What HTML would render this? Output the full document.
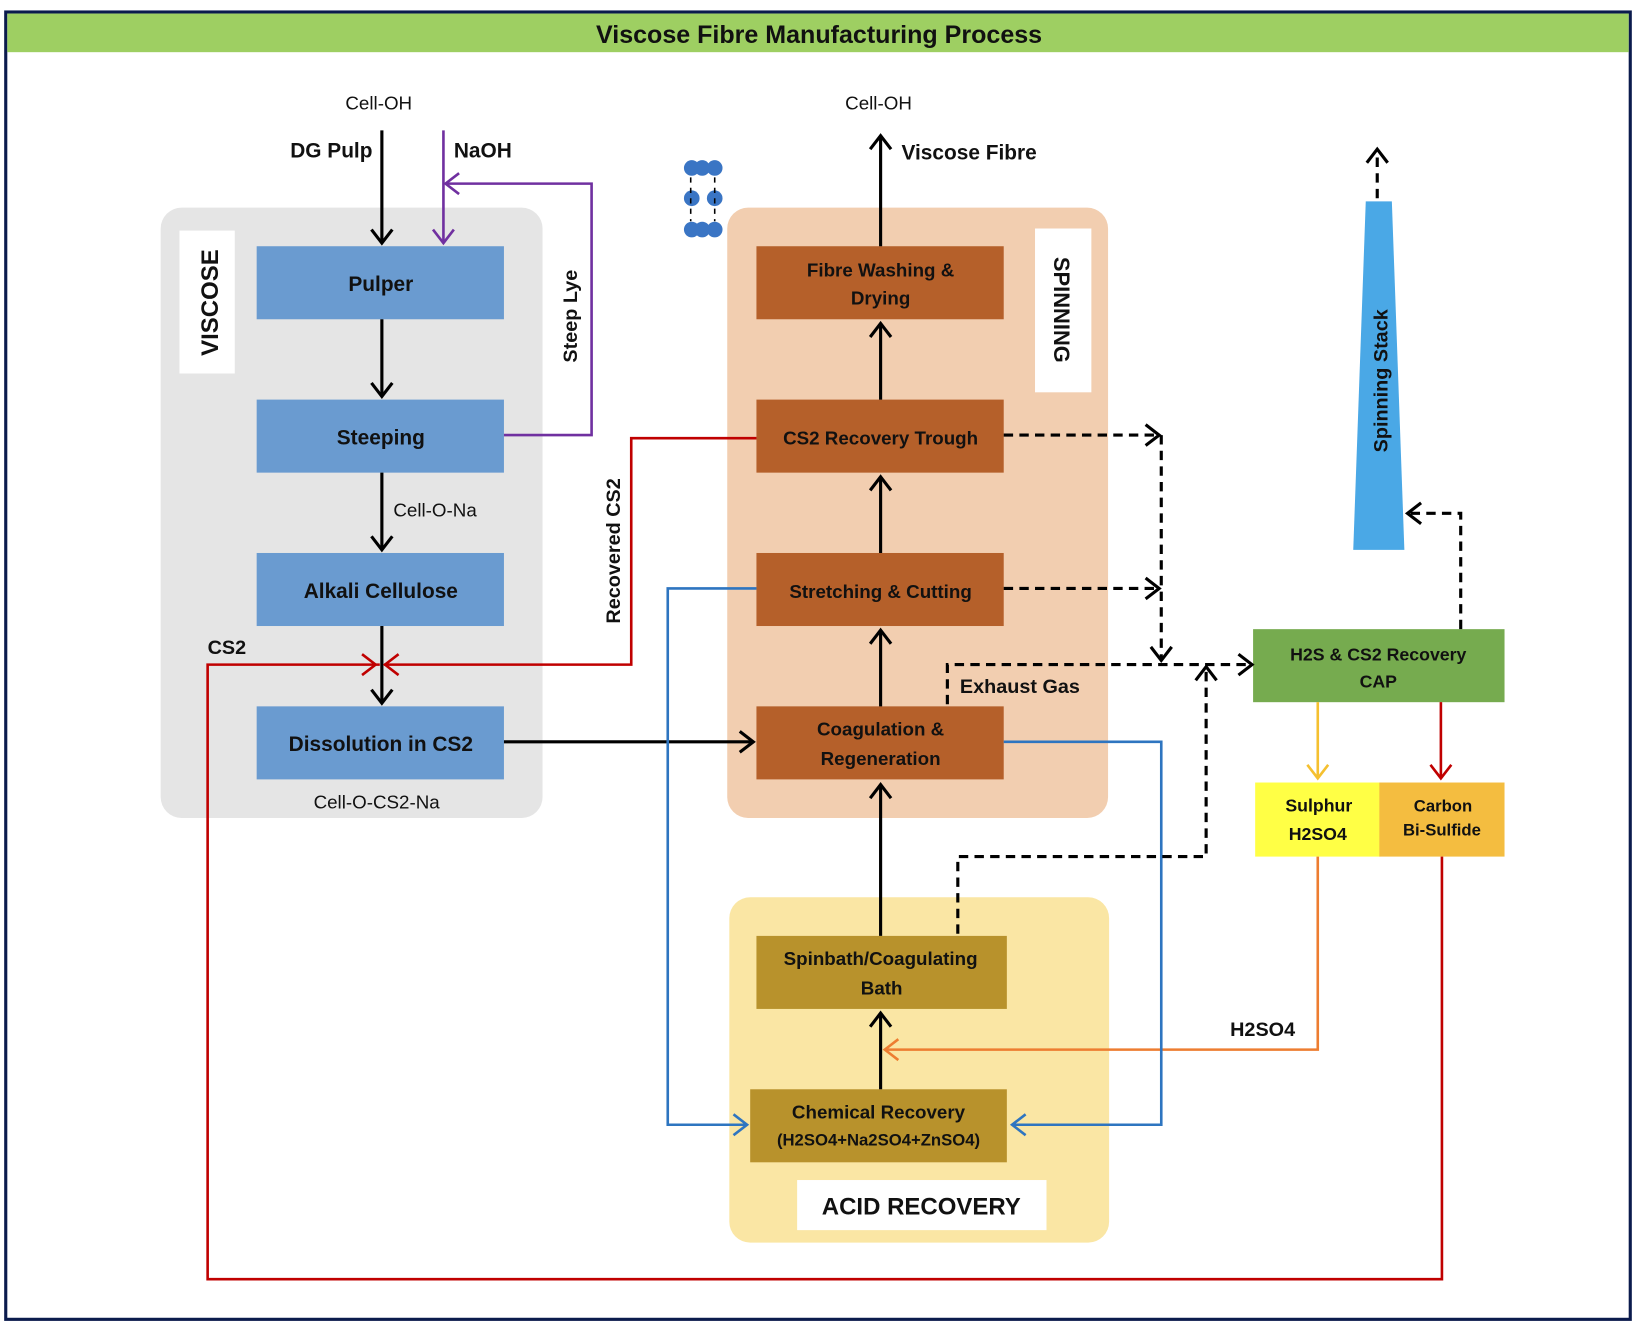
<!DOCTYPE html>
<html><head><meta charset="utf-8"><style>
html,body{margin:0;padding:0;background:#fff;}
svg{display:block;}
text{font-family:"Liberation Sans",sans-serif;}
.b{font-weight:bold;}
</style></head><body>
<svg width="1636" height="1333" viewBox="0 0 1568 1277.6" xmlns="http://www.w3.org/2000/svg">
<rect x="0" y="0" width="1568" height="1278" fill="#fff"/>
<rect x="5.5" y="11.5" width="1557" height="1253" fill="#fff" stroke="#0b1b4d" stroke-width="3"/>
<rect x="7" y="13" width="1554" height="37" fill="#9ecf62"/>
<text x="785" y="41" text-anchor="middle" class="b" font-size="24" fill="#111">Viscose Fibre Manufacturing Process</text>

<!-- groups -->
<rect x="154" y="199" width="366" height="585" rx="20" fill="#e5e5e5"/>
<rect x="697" y="199" width="365" height="585" rx="20" fill="#f2ceb0"/>
<rect x="699" y="860" width="364" height="331" rx="20" fill="#fae6a4"/>
<rect x="172" y="221" width="53" height="137" fill="#fff"/>
<text transform="translate(209,290) rotate(-90)" text-anchor="middle" class="b" font-size="23" fill="#111">VISCOSE</text>
<rect x="992" y="219" width="54" height="157" fill="#fff"/>
<text transform="translate(1010,297) rotate(90)" text-anchor="middle" class="b" font-size="21" fill="#111">SPINNING</text>
<rect x="764" y="1131" width="239" height="48" fill="#fff"/>
<text x="883" y="1164" text-anchor="middle" class="b" font-size="23" fill="#111">ACID RECOVERY</text>

<!-- blue boxes -->
<g fill="#6a9bd0">
<rect x="246" y="236" width="237" height="70"/>
<rect x="246" y="383" width="237" height="70"/>
<rect x="246" y="530" width="237" height="70"/>
<rect x="246" y="677" width="237" height="70"/>
</g>
<g class="b" font-size="20" fill="#111" text-anchor="middle">
<text x="365" y="279">Pulper</text>
<text x="365" y="426">Steeping</text>
<text x="365" y="573">Alkali Cellulose</text>
<text x="365" y="720">Dissolution in CS2</text>
</g>

<!-- brown boxes -->
<g fill="#b5602a">
<rect x="725" y="236" width="237" height="70"/>
<rect x="725" y="383" width="237" height="70"/>
<rect x="725" y="530" width="237" height="70"/>
<rect x="725" y="677" width="237" height="70"/>
</g>
<g class="b" font-size="18" fill="#111" text-anchor="middle">
<text x="844" y="265">Fibre Washing &amp;</text>
<text x="844" y="292">Drying</text>
<text x="844" y="426">CS2 Recovery Trough</text>
<text x="844" y="573">Stretching &amp; Cutting</text>
<text x="844" y="705">Coagulation &amp;</text>
<text x="844" y="733">Regeneration</text>
</g>
<!-- acid boxes -->
<rect x="725" y="897" width="240" height="70" fill="#b8922c"/>
<rect x="719" y="1044" width="246" height="70" fill="#b8922c"/>
<g class="b" font-size="18" fill="#111" text-anchor="middle">
<text x="844" y="925">Spinbath/Coagulating</text>
<text x="845" y="953">Bath</text>
<text x="842" y="1072">Chemical Recovery</text>
<text x="842" y="1098" font-size="16">(H2SO4+Na2SO4+ZnSO4)</text>
</g>

<!-- right side -->
<polygon points="1309,193 1334,193 1346,527 1297,527" fill="#4aa8e6"/>
<text transform="translate(1330,365) rotate(-90)" text-anchor="middle" class="b" font-size="19" fill="#111">Spinning Stack</text>
<rect x="1201" y="603" width="241" height="70" fill="#76ab4f"/>
<text x="1321" y="633" text-anchor="middle" class="b" font-size="17" fill="#111">H2S &amp; CS2 Recovery</text>
<text x="1321" y="659" text-anchor="middle" class="b" font-size="17" fill="#111">CAP</text>
<rect x="1203" y="750" width="120" height="71" fill="#ffff45"/>
<rect x="1322" y="750" width="120" height="71" fill="#f4bd40"/>
<g class="b" font-size="17" fill="#111" text-anchor="middle">
<text x="1264" y="778">Sulphur</text>
<text x="1263" y="805">H2SO4</text>
<text x="1383" y="778" font-size="16">Carbon</text>
<text x="1382" y="801" font-size="16">Bi-Sulfide</text>
</g>

<!-- labels -->
<g fill="#111">
<text x="363" y="105" text-anchor="middle" font-size="18">Cell-OH</text>
<text x="842" y="105" text-anchor="middle" font-size="18">Cell-OH</text>
<text x="357" y="151" text-anchor="end" class="b" font-size="20">DG Pulp</text>
<text x="435" y="151" class="b" font-size="20">NaOH</text>
<text x="864" y="153" class="b" font-size="20">Viscose Fibre</text>
<text transform="translate(553,303) rotate(-90)" text-anchor="middle" class="b" font-size="19">Steep Lye</text>
<text transform="translate(594,528) rotate(-90)" text-anchor="middle" class="b" font-size="19">Recovered CS2</text>
<text x="377" y="495" font-size="18">Cell-O-Na</text>
<text x="361" y="775" text-anchor="middle" font-size="18">Cell-O-CS2-Na</text>
<text x="199" y="627" class="b" font-size="19">CS2</text>
<text x="920" y="664" class="b" font-size="19">Exhaust Gas</text>
<text x="1179" y="993" class="b" font-size="19">H2SO4</text>
</g>

<!-- black solid arrows -->
<g stroke="#000" stroke-width="3" fill="none">
<line x1="366" y1="125" x2="366" y2="233"/><polyline points="356,220 366,233 376,220"/>
<line x1="366" y1="306" x2="366" y2="380"/><polyline points="356,367 366,380 376,367"/>
<line x1="366" y1="453" x2="366" y2="527"/><polyline points="356,514 366,527 376,514"/>
<line x1="366" y1="600" x2="366" y2="674"/><polyline points="356,661 366,674 376,661"/>
<line x1="483" y1="711" x2="722" y2="711"/><polyline points="709,701 722,711 709,721"/>
<line x1="844" y1="677" x2="844" y2="604"/><polyline points="834,617 844,604 854,617"/>
<line x1="844" y1="530" x2="844" y2="457"/><polyline points="834,470 844,457 854,470"/>
<line x1="844" y1="383" x2="844" y2="310"/><polyline points="834,323 844,310 854,323"/>
<line x1="844" y1="236" x2="844" y2="130"/><polyline points="834,143 844,130 854,143"/>
<line x1="844" y1="897" x2="844" y2="752"/><polyline points="834,765 844,752 854,765"/>
<line x1="844" y1="1044" x2="844" y2="971"/><polyline points="834,984 844,971 854,984"/>
</g>
<!-- purple -->
<g stroke="#7030a0" stroke-width="2.5" fill="none">
<line x1="425" y1="125" x2="425" y2="233"/><polyline points="415,220 425,233 435,220"/>
<polyline points="483,417 567,417 567,176 427,176"/><polyline points="440,166 427,176 440,186"/>
</g>
<!-- red -->
<g stroke="#c00000" stroke-width="2.5" fill="none">
<polyline points="1382,821 1382,1226 199,1226 199,637 364,637"/>
<polyline points="347,627 360,637 347,647"/>
<polyline points="725,420 605,420 605,637 368,637"/>
<polyline points="382,627 369,637 382,647"/>
<line x1="1381" y1="673" x2="1381" y2="746"/><polyline points="1371,733 1381,746 1391,733"/>
</g>
<!-- yellow / orange -->
<g stroke="#f5c030" stroke-width="2.5" fill="none">
<line x1="1263" y1="673" x2="1263" y2="746"/><polyline points="1253,733 1263,746 1273,733"/>
</g>
<g stroke="#ed7d31" stroke-width="2.5" fill="none">
<polyline points="1263,821 1263,1006 848,1006"/><polyline points="861,996 848,1006 861,1016"/>
</g>
<!-- blue -->
<g stroke="#2e75c0" stroke-width="2.5" fill="none">
<polyline points="725,564 640,564 640,1078 716,1078"/><polyline points="703,1068 716,1078 703,1088"/>
<polyline points="962,711 1113,711 1113,1078 970,1078"/><polyline points="983,1068 970,1078 983,1088"/>
</g>
<!-- dashed -->
<g stroke="#000" stroke-width="3" fill="none" stroke-dasharray="9,6">
<line x1="962" y1="417" x2="1111" y2="417"/>
<line x1="962" y1="564" x2="1111" y2="564"/>
<line x1="1113" y1="417" x2="1113" y2="632"/>
<polyline points="908,675 908,637 1199,637"/>
<polyline points="918,895 918,821 1156,821 1156,640"/>
<polyline points="1400,603 1400,492 1350,492"/>
<line x1="1320" y1="190" x2="1320" y2="145"/>
</g>
<g stroke="#000" stroke-width="3" fill="none">
<polyline points="1098,407 1111,417 1098,427"/>
<polyline points="1098,554 1111,564 1098,574"/>
<polyline points="1103,620 1113,633 1123,620"/>
<polyline points="1187,627 1200,637 1187,647"/>
<polyline points="1146,652 1156,639 1166,652"/>
<polyline points="1362,482 1349,492 1362,502"/>
<polyline points="1310,156 1320,143 1330,156"/>
</g>

<!-- dots icon -->
<g fill="#3a75c4">
<circle cx="663" cy="161" r="7.5"/><circle cx="673" cy="161" r="7.5"/><circle cx="685" cy="161" r="7.5"/>
<circle cx="663" cy="190" r="7.5"/><circle cx="685" cy="190" r="7.5"/>
<circle cx="663" cy="220" r="7.5"/><circle cx="673" cy="220" r="7.5"/><circle cx="685" cy="220" r="7.5"/>
</g>
<g stroke="#000" stroke-width="1.5" stroke-dasharray="5,5">
<line x1="662" y1="170" x2="662" y2="212"/><line x1="685" y1="170" x2="685" y2="212"/>
</g>
</svg>
</body></html>
